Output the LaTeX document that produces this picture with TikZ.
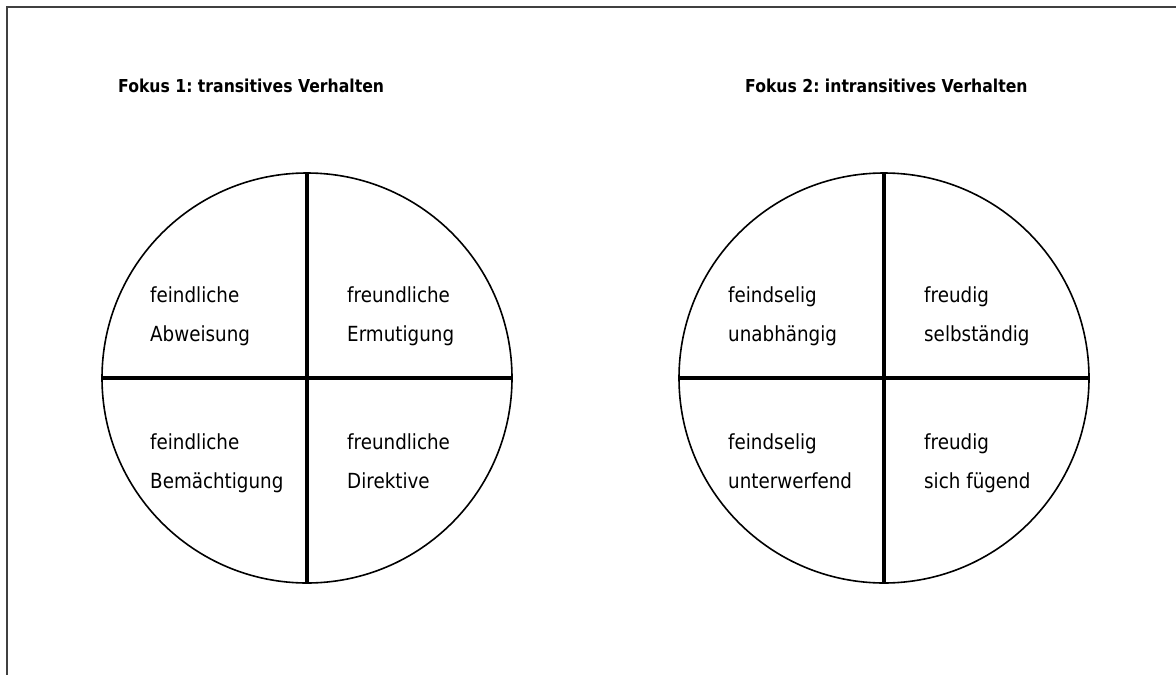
\documentclass[tikz,border=0pt]{standalone}
\usepackage{fontspec}
\setmainfont{DejaVu Sans}[FakeStretch=0.88]
\frenchspacing
\begin{document}
\begin{tikzpicture}[x=1pt,y=-1pt,
  frame/.style={draw=black!75, line width=2pt},
  wheel/.style={circle, draw, line width=1.6pt, minimum size=410pt, inner sep=0pt},
  cross/.style={line width=3.2pt},
  title/.style={anchor=base west, inner sep=0pt, font=\fontsize{17.8}{20}\selectfont\bfseries},
  lab/.style={anchor=base west, inner sep=0pt, font=\fontsize{20.8}{24}\selectfont}]
\useasboundingbox (0,0) rectangle (1176,675);
\coordinate (fa) at (6.5,676);
\coordinate (fb) at (6.5,7.3);
\coordinate (fc) at (1177,7.3);
\draw[frame] (fa) -- (fb) -- (fc);

\node[title] (t1) at (118,92) {Fokus 1: transitives Verhalten};
\node[title] (t2) at (745,92) {Fokus 2: intransitives Verhalten};

\node[wheel] (c1) at (307,378) {};
\node[wheel] (c2) at (884,378) {};
\draw[cross] (c1.north) -- (c1.south);
\draw[cross] (c1.west) -- (c1.east);
\draw[cross] (c2.north) -- (c2.south);
\draw[cross] (c2.west) -- (c2.east);

\node[lab] (a1) at (150,302) {feindliche};
\node[lab] (a2) at (150,341) {Abweisung};
\node[lab] (b1) at (347,302) {freundliche};
\node[lab] (b2) at (347,341) {Ermutigung};
\node[lab] (c1a) at (150,449) {feindliche};
\node[lab] (c1b) at (150,488) {Bemächtigung};
\node[lab] (d1) at (347,449) {freundliche};
\node[lab] (d2) at (347,488) {Direktive};

\node[lab] (e1) at (728,302) {feindselig};
\node[lab] (e2) at (728,341) {unabhängig};
\node[lab] (f1) at (924,302) {freudig};
\node[lab] (f2) at (924,341) {selbständig};
\node[lab] (g1) at (728,449) {feindselig};
\node[lab] (g2) at (728,488) {unterwerfend};
\node[lab] (h1) at (924,449) {freudig};
\node[lab] (h2) at (924,488) {sich fügend};
\end{tikzpicture}
\end{document}
